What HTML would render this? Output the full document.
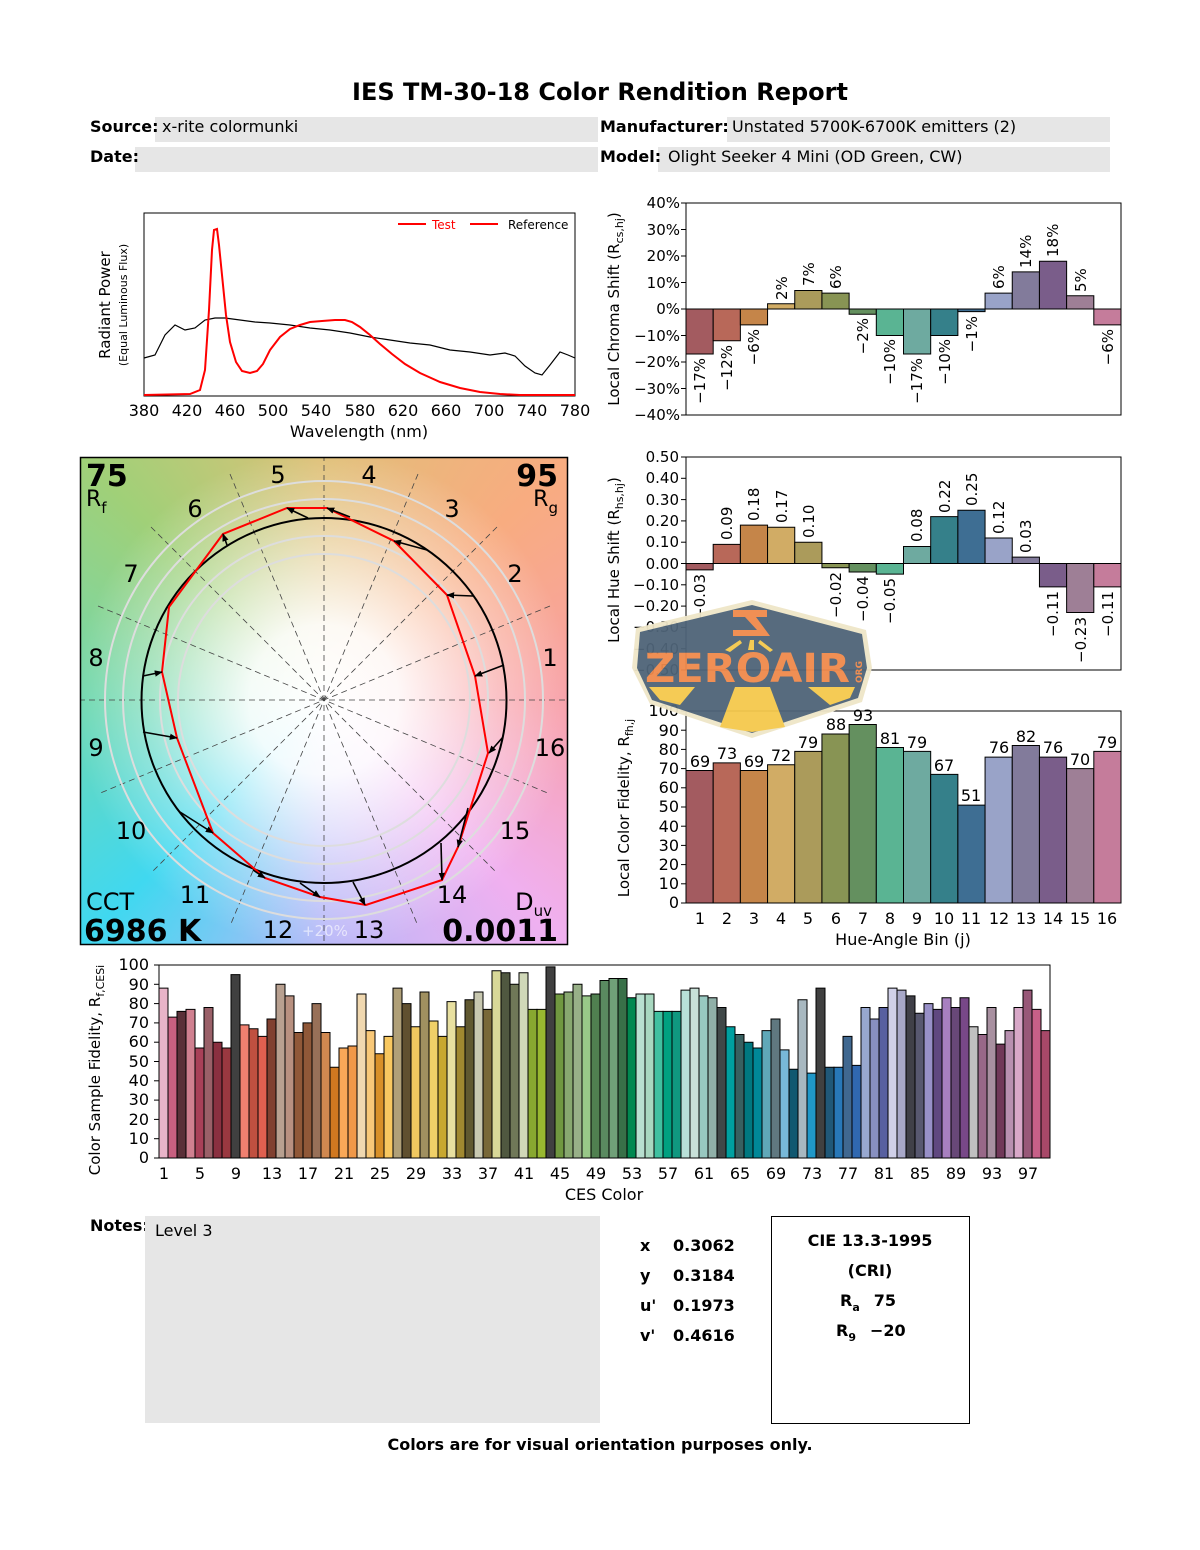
<!DOCTYPE html>
<html><head><meta charset="utf-8">
<style>
html,body{margin:0;padding:0;background:#fff;}
svg{display:block;font-family:"DejaVu Sans","Liberation Sans",sans-serif;}
.ns{vector-effect:non-scaling-stroke;}
</style></head><body>
<svg width="1200" height="1550" viewBox="0 0 1200 1550" xmlns="http://www.w3.org/2000/svg">
<defs>
<clipPath id="vgc"><rect x="81" y="458" width="486" height="486"/></clipPath>
<radialGradient id="wht" cx="324" cy="700" r="250" gradientUnits="userSpaceOnUse">
<stop offset="0" stop-color="#fff" stop-opacity="1"/>
<stop offset="0.3" stop-color="#fff" stop-opacity="0.92"/>
<stop offset="0.7" stop-color="#fff" stop-opacity="0.35"/>
<stop offset="1" stop-color="#fff" stop-opacity="0"/>
</radialGradient>
<marker id="ah" viewBox="0 0 10 10" refX="9" refY="5" markerWidth="5" markerHeight="5" orient="auto"><path d="M0,1 L10,5 L0,9 z" fill="#000"/></marker>
</defs>

<!-- Title & header -->
<text x="600" y="100" text-anchor="middle" font-size="24" font-weight="bold">IES TM-30-18 Color Rendition Report</text>
<rect x="155" y="117" width="443" height="25" fill="#e6e6e6"/>
<rect x="135" y="147" width="463" height="25" fill="#e6e6e6"/>
<rect x="727" y="117" width="383" height="25" fill="#e6e6e6"/>
<rect x="658" y="147" width="452" height="25" fill="#e6e6e6"/>
<g font-size="16">
<text x="90" y="132" font-weight="bold">Source:</text><text x="162" y="132">x-rite colormunki</text>
<text x="90" y="162" font-weight="bold">Date:</text>
<text x="600" y="132" font-weight="bold">Manufacturer:</text><text x="732" y="132">Unstated 5700K-6700K emitters (2)</text>
<text x="600" y="162" font-weight="bold">Model:</text><text x="668" y="162">Olight Seeker 4 Mini (OD Green, CW)</text>
</g>

<!-- Spectrum chart -->
<rect x="144" y="213" width="431" height="183" fill="none" stroke="#000" stroke-width="1"/>
<polyline fill="none" stroke="#000" stroke-width="1.2" points="144,358 155,355 160,345 165,335 175,325 185,330 195,328 205,320 215,318 225,318 240,320 255,322 270,323 290,325 310,328 330,330 350,333 370,337 390,340 410,343 430,345 450,350 470,352 490,355 505,353 515,356 525,366 535,373 542,375 550,365 560,352 568,355 575,358"/>
<polyline fill="none" stroke="#f00" stroke-width="2" points="144,395 190,394 200,390 205,370 209,310 212,250 214,230 217,229 219,245 222,275 226,315 230,342 236,362 242,371 250,373 257,371 263,364 270,350 280,337 290,329 300,325 310,322 322,321 335,320 345,320 352,322 360,327 370,335 380,344 392,354 405,364 420,373 440,382 460,388 480,392 500,394 520,395 575,395"/>
<line x1="398" y1="224" x2="426" y2="224" stroke="#f00" stroke-width="2"/>
<text x="432" y="229" font-size="12" fill="#f00">Test</text>
<line x1="470" y1="224" x2="498" y2="224" stroke="#f00" stroke-width="2"/>
<text x="508" y="229" font-size="12">Reference</text>
<g font-size="16" text-anchor="middle">
<text x="144" y="416">380</text><text x="187" y="416">420</text><text x="230" y="416">460</text><text x="273" y="416">500</text><text x="316" y="416">540</text><text x="360" y="416">580</text><text x="403" y="416">620</text><text x="446" y="416">660</text><text x="489" y="416">700</text><text x="532" y="416">740</text><text x="575" y="416">780</text>
<text x="359" y="437">Wavelength (nm)</text>
</g>
<text transform="translate(110,305) rotate(-90)" text-anchor="middle" font-size="15">Radiant Power</text>
<text transform="translate(127,305) rotate(-90)" text-anchor="middle" font-size="11">(Equal Luminous Flux)</text>

<!-- Chroma shift chart -->
<g transform="translate(686,309) scale(27.1875,-2.65)" stroke="#000" stroke-width="1">
<rect class="ns" x="0" y="-17" width="1" height="17" fill="#a35b60"/>
<rect class="ns" x="1" y="-12" width="1" height="12" fill="#b86859"/>
<rect class="ns" x="2" y="-6" width="1" height="6" fill="#c58549"/>
<rect class="ns" x="3" y="0" width="1" height="2" fill="#d1ac65"/>
<rect class="ns" x="4" y="0" width="1" height="7" fill="#ab9b5b"/>
<rect class="ns" x="5" y="0" width="1" height="6" fill="#889454"/>
<rect class="ns" x="6" y="-2" width="1" height="2" fill="#64905f"/>
<rect class="ns" x="7" y="-10" width="1" height="10" fill="#5ab493"/>
<rect class="ns" x="8" y="-17" width="1" height="17" fill="#6eaaa0"/>
<rect class="ns" x="9" y="-10" width="1" height="10" fill="#35808a"/>
<rect class="ns" x="10" y="-1" width="1" height="1" fill="#3e6e93"/>
<rect class="ns" x="11" y="0" width="1" height="6" fill="#99a3c8"/>
<rect class="ns" x="12" y="0" width="1" height="14" fill="#827b9b"/>
<rect class="ns" x="13" y="0" width="1" height="18" fill="#7a5d8a"/>
<rect class="ns" x="14" y="0" width="1" height="5" fill="#9e7f96"/>
<rect class="ns" x="15" y="-6" width="1" height="6" fill="#c57c9b"/>
</g>
<rect x="686" y="203" width="435" height="212" fill="none" stroke="#000"/>
<g font-size="15" text-anchor="end">
<text x="680" y="208">40%</text><text x="680" y="235">30%</text><text x="680" y="261">20%</text><text x="680" y="288">10%</text><text x="680" y="314">0%</text><text x="680" y="341">−10%</text><text x="680" y="367">−20%</text><text x="680" y="394">−30%</text><text x="680" y="420">−40%</text>
</g>
<g stroke="#000"><line x1="681" y1="203" x2="686" y2="203"/><line x1="681" y1="229.5" x2="686" y2="229.5"/><line x1="681" y1="256" x2="686" y2="256"/><line x1="681" y1="282.5" x2="686" y2="282.5"/><line x1="681" y1="309" x2="686" y2="309"/><line x1="681" y1="335.5" x2="686" y2="335.5"/><line x1="681" y1="362" x2="686" y2="362"/><line x1="681" y1="388.5" x2="686" y2="388.5"/><line x1="681" y1="415" x2="686" y2="415"/></g>
<text transform="translate(619,309) rotate(-90)" text-anchor="middle" font-size="15">Local Chroma Shift (R<tspan font-size="11" dy="4">cs,hj</tspan><tspan dy="-4">)</tspan></text>
<g font-size="15">
<text transform="translate(705,358) rotate(-90)" text-anchor="end">−17%</text>
<text transform="translate(732,345) rotate(-90)" text-anchor="end">−12%</text>
<text transform="translate(759,329) rotate(-90)" text-anchor="end">−6%</text>
<text transform="translate(787,300) rotate(-90)">2%</text>
<text transform="translate(814,286) rotate(-90)">7%</text>
<text transform="translate(841,289) rotate(-90)">6%</text>
<text transform="translate(868,318) rotate(-90)" text-anchor="end">−2%</text>
<text transform="translate(895,339) rotate(-90)" text-anchor="end">−10%</text>
<text transform="translate(922,358) rotate(-90)" text-anchor="end">−17%</text>
<text transform="translate(950,339) rotate(-90)" text-anchor="end">−10%</text>
<text transform="translate(977,316) rotate(-90)" text-anchor="end">−1%</text>
<text transform="translate(1004,289) rotate(-90)">6%</text>
<text transform="translate(1031,268) rotate(-90)">14%</text>
<text transform="translate(1058,257) rotate(-90)">18%</text>
<text transform="translate(1086,292) rotate(-90)">5%</text>
<text transform="translate(1113,329) rotate(-90)" text-anchor="end">−6%</text>
</g>

<!-- Hue shift chart -->
<g transform="translate(686,563.5) scale(27.1875,-213)" stroke="#000">
<rect class="ns" x="0" y="-0.03" width="1" height="0.03" fill="#a35b60"/>
<rect class="ns" x="1" y="0" width="1" height="0.09" fill="#b86859"/>
<rect class="ns" x="2" y="0" width="1" height="0.18" fill="#c58549"/>
<rect class="ns" x="3" y="0" width="1" height="0.17" fill="#d1ac65"/>
<rect class="ns" x="4" y="0" width="1" height="0.10" fill="#ab9b5b"/>
<rect class="ns" x="5" y="-0.02" width="1" height="0.02" fill="#889454"/>
<rect class="ns" x="6" y="-0.04" width="1" height="0.04" fill="#64905f"/>
<rect class="ns" x="7" y="-0.05" width="1" height="0.05" fill="#5ab493"/>
<rect class="ns" x="8" y="0" width="1" height="0.08" fill="#6eaaa0"/>
<rect class="ns" x="9" y="0" width="1" height="0.22" fill="#35808a"/>
<rect class="ns" x="10" y="0" width="1" height="0.25" fill="#3e6e93"/>
<rect class="ns" x="11" y="0" width="1" height="0.12" fill="#99a3c8"/>
<rect class="ns" x="12" y="0" width="1" height="0.03" fill="#827b9b"/>
<rect class="ns" x="13" y="-0.11" width="1" height="0.11" fill="#7a5d8a"/>
<rect class="ns" x="14" y="-0.23" width="1" height="0.23" fill="#9e7f96"/>
<rect class="ns" x="15" y="-0.11" width="1" height="0.11" fill="#c57c9b"/>
</g>
<rect x="686" y="457" width="435" height="213" fill="none" stroke="#000"/>
<g font-size="15" text-anchor="end">
<text x="679" y="462">0.50</text><text x="679" y="483">0.40</text><text x="679" y="505">0.30</text><text x="679" y="526">0.20</text><text x="679" y="547">0.10</text><text x="679" y="569">0.00</text><text x="679" y="590">−0.10</text><text x="679" y="611">−0.20</text><text x="679" y="632">−0.30</text><text x="679" y="654">−0.40</text><text x="679" y="675">−0.50</text>
</g>
<g stroke="#000"><line x1="681" y1="457" x2="686" y2="457"/><line x1="681" y1="478.3" x2="686" y2="478.3"/><line x1="681" y1="499.6" x2="686" y2="499.6"/><line x1="681" y1="520.9" x2="686" y2="520.9"/><line x1="681" y1="542.2" x2="686" y2="542.2"/><line x1="681" y1="563.5" x2="686" y2="563.5"/><line x1="681" y1="584.8" x2="686" y2="584.8"/><line x1="681" y1="606.1" x2="686" y2="606.1"/><line x1="681" y1="627.4" x2="686" y2="627.4"/><line x1="681" y1="648.7" x2="686" y2="648.7"/><line x1="681" y1="670" x2="686" y2="670"/></g>
<text transform="translate(619,560) rotate(-90)" text-anchor="middle" font-size="15">Local Hue Shift (R<tspan font-size="11" dy="4">hs,hj</tspan><tspan dy="-4">)</tspan></text>
<g font-size="15">
<text transform="translate(705,574) rotate(-90)" text-anchor="end">−0.03</text>
<text transform="translate(732,540) rotate(-90)">0.09</text>
<text transform="translate(759,521) rotate(-90)">0.18</text>
<text transform="translate(787,523) rotate(-90)">0.17</text>
<text transform="translate(814,538) rotate(-90)">0.10</text>
<text transform="translate(841,572) rotate(-90)" text-anchor="end">−0.02</text>
<text transform="translate(868,576) rotate(-90)" text-anchor="end">−0.04</text>
<text transform="translate(895,578) rotate(-90)" text-anchor="end">−0.05</text>
<text transform="translate(922,542) rotate(-90)">0.08</text>
<text transform="translate(950,513) rotate(-90)">0.22</text>
<text transform="translate(977,506) rotate(-90)">0.25</text>
<text transform="translate(1004,534) rotate(-90)">0.12</text>
<text transform="translate(1031,553) rotate(-90)">0.03</text>
<text transform="translate(1058,591) rotate(-90)" text-anchor="end">−0.11</text>
<text transform="translate(1086,617) rotate(-90)" text-anchor="end">−0.23</text>
<text transform="translate(1113,591) rotate(-90)" text-anchor="end">−0.11</text>
</g>

<!-- Local fidelity chart -->
<g transform="translate(686,903) scale(27.1875,-1.92)" stroke="#000">
<rect class="ns" x="0" y="0" width="1" height="69" fill="#a35b60"/>
<rect class="ns" x="1" y="0" width="1" height="73" fill="#b86859"/>
<rect class="ns" x="2" y="0" width="1" height="69" fill="#c58549"/>
<rect class="ns" x="3" y="0" width="1" height="72" fill="#d1ac65"/>
<rect class="ns" x="4" y="0" width="1" height="79" fill="#ab9b5b"/>
<rect class="ns" x="5" y="0" width="1" height="88" fill="#889454"/>
<rect class="ns" x="6" y="0" width="1" height="93" fill="#64905f"/>
<rect class="ns" x="7" y="0" width="1" height="81" fill="#5ab493"/>
<rect class="ns" x="8" y="0" width="1" height="79" fill="#6eaaa0"/>
<rect class="ns" x="9" y="0" width="1" height="67" fill="#35808a"/>
<rect class="ns" x="10" y="0" width="1" height="51" fill="#3e6e93"/>
<rect class="ns" x="11" y="0" width="1" height="76" fill="#99a3c8"/>
<rect class="ns" x="12" y="0" width="1" height="82" fill="#827b9b"/>
<rect class="ns" x="13" y="0" width="1" height="76" fill="#7a5d8a"/>
<rect class="ns" x="14" y="0" width="1" height="70" fill="#9e7f96"/>
<rect class="ns" x="15" y="0" width="1" height="79" fill="#c57c9b"/>
</g>
<rect x="686" y="711" width="435" height="192" fill="none" stroke="#000"/>
<g font-size="16" text-anchor="middle">
<text x="700" y="767">69</text><text x="727" y="759">73</text><text x="754" y="767">69</text><text x="781" y="761">72</text><text x="808" y="748">79</text><text x="836" y="730">88</text><text x="863" y="721">93</text><text x="890" y="744">81</text><text x="917" y="748">79</text><text x="944" y="771">67</text><text x="971" y="801">51</text><text x="999" y="753">76</text><text x="1026" y="742">82</text><text x="1053" y="753">76</text><text x="1080" y="765">70</text><text x="1107" y="748">79</text>
</g>
<g font-size="16" text-anchor="end">
<text x="679" y="716">100</text><text x="679" y="736">90</text><text x="679" y="755">80</text><text x="679" y="774">70</text><text x="679" y="793">60</text><text x="679" y="812">50</text><text x="679" y="832">40</text><text x="679" y="851">30</text><text x="679" y="870">20</text><text x="679" y="889">10</text><text x="679" y="908">0</text>
</g>
<g stroke="#000"><line x1="681" y1="711" x2="686" y2="711"/><line x1="681" y1="730.2" x2="686" y2="730.2"/><line x1="681" y1="749.4" x2="686" y2="749.4"/><line x1="681" y1="768.6" x2="686" y2="768.6"/><line x1="681" y1="787.8" x2="686" y2="787.8"/><line x1="681" y1="807" x2="686" y2="807"/><line x1="681" y1="826.2" x2="686" y2="826.2"/><line x1="681" y1="845.4" x2="686" y2="845.4"/><line x1="681" y1="864.6" x2="686" y2="864.6"/><line x1="681" y1="883.8" x2="686" y2="883.8"/><line x1="681" y1="903" x2="686" y2="903"/></g>
<g font-size="16" text-anchor="middle">
<text x="700" y="924">1</text><text x="727" y="924">2</text><text x="754" y="924">3</text><text x="781" y="924">4</text><text x="808" y="924">5</text><text x="836" y="924">6</text><text x="863" y="924">7</text><text x="890" y="924">8</text><text x="917" y="924">9</text><text x="944" y="924">10</text><text x="971" y="924">11</text><text x="999" y="924">12</text><text x="1026" y="924">13</text><text x="1053" y="924">14</text><text x="1080" y="924">15</text><text x="1107" y="924">16</text>
<text x="903" y="945">Hue-Angle Bin (j)</text>
</g>
<text transform="translate(629,808) rotate(-90)" text-anchor="middle" font-size="15">Local Color Fidelity, R<tspan font-size="11" dy="4">fh,j</tspan></text>

<!-- Colour vector graphic -->
<g clip-path="url(#vgc)">
<foreignObject x="81" y="458" width="486" height="486">
<div xmlns="http://www.w3.org/1999/xhtml" style="width:486px;height:486px;background:conic-gradient(from 0deg at 50% 50%, #e0c078 0deg, #f8ac80 45deg, #f8a0a8 90deg, #f0b0f0 135deg, #b8b8f8 180deg, #40d8f0 225deg, #70d8b0 270deg, #a0d078 315deg, #e0c078 360deg);"></div>
</foreignObject>
<rect x="81" y="458" width="486" height="486" fill="url(#wht)"/>
<g stroke="#444" stroke-width="0.8" stroke-dasharray="6,4">
<line x1="79" y1="700" x2="569" y2="700"/>
<line x1="324" y1="455" x2="324" y2="945"/>
<line x1="98" y1="606" x2="550" y2="794"/>
<line x1="151" y1="527" x2="497" y2="873"/>
<line x1="230" y1="474" x2="418" y2="926"/>
<line x1="418" y1="474" x2="230" y2="926"/>
<line x1="497" y1="527" x2="151" y2="873"/>
<line x1="550" y1="606" x2="98" y2="794"/>
</g>
<g fill="none" stroke="#ddd" stroke-width="2">
<circle cx="324" cy="700" r="146"/><circle cx="324" cy="700" r="164"/><circle cx="324" cy="700" r="201"/><circle cx="324" cy="700" r="219"/>
</g>
<circle cx="324" cy="700.5" r="182.5" fill="none" stroke="#000" stroke-width="2"/>
<polygon fill="none" stroke="#f00" stroke-width="2" points="287,508 327,508 394,541 447,595 475,676 488,753 458,847 442,880 366,905 320,897 265,878 213,833 177,738 162,672 169,607 223,534"/>
<g stroke="#000" stroke-width="1.6" marker-end="url(#ah)">
<line x1="308" y1="518" x2="287" y2="508"/>
<line x1="350" y1="517" x2="327" y2="508"/>
<line x1="427" y1="550" x2="394" y2="541"/>
<line x1="473" y1="596" x2="447" y2="595"/>
<line x1="504" y1="665" x2="475" y2="676"/>
<line x1="503" y1="737" x2="489" y2="753"/>
<line x1="468" y1="808" x2="458" y2="847"/>
<line x1="441" y1="843" x2="442" y2="880"/>
<line x1="353" y1="882" x2="365" y2="905"/>
<line x1="300" y1="883" x2="320" y2="897"/>
<line x1="253" y1="870" x2="265" y2="878"/>
<line x1="180" y1="812" x2="213" y2="833"/>
<line x1="143" y1="732" x2="177" y2="738"/>
<line x1="143" y1="676" x2="162" y2="672"/>
<line x1="227" y1="545" x2="223" y2="534"/>
</g>
<g font-size="24" text-anchor="middle">
<text x="550" y="666">1</text><text x="515" y="582">2</text><text x="452" y="517">3</text><text x="369" y="483">4</text><text x="278" y="483">5</text><text x="195" y="517">6</text><text x="131" y="582">7</text><text x="96" y="666">8</text><text x="96" y="756">9</text><text x="131" y="839">10</text><text x="195" y="903">11</text><text x="278" y="938">12</text><text x="369" y="938">13</text><text x="452" y="903">14</text><text x="515" y="839">15</text><text x="550" y="756">16</text>
</g>
<text x="325" y="936" text-anchor="middle" font-size="15" fill="#fff" fill-opacity="0.6">+20%</text>
<text x="86" y="486" font-size="30" font-weight="bold">75</text>
<text x="86" y="506" font-size="22">R<tspan font-size="15" dy="7">f</tspan></text>
<text x="558" y="486" font-size="30" font-weight="bold" text-anchor="end">95</text>
<text x="558" y="506" font-size="22" text-anchor="end">R<tspan font-size="15" dy="7">g</tspan></text>
<text x="86" y="910" font-size="24">CCT</text>
<text x="84" y="941" font-size="30" font-weight="bold">6986 K</text>
<text x="552" y="910" font-size="24" text-anchor="end">D<tspan font-size="15" dy="6">uv</tspan></text>
<text x="558" y="941" font-size="30" font-weight="bold" text-anchor="end">0.0011</text>
</g>
<rect x="80.5" y="457.5" width="487" height="487" fill="none" stroke="#000" stroke-width="1.5"/>

<!-- CES chart -->
<g transform="translate(159,1158) scale(9,-1.93)" stroke="#000">
<rect class="ns" x="0" width="1" height="88" fill="#e8b4c8"/>
<rect class="ns" x="1" width="1" height="73" fill="#c86080"/>
<rect class="ns" x="2" width="1" height="76" fill="#5a3038"/>
<rect class="ns" x="3" width="1" height="77" fill="#d08090"/>
<rect class="ns" x="4" width="1" height="57" fill="#a84058"/>
<rect class="ns" x="5" width="1" height="78" fill="#9a6068"/>
<rect class="ns" x="6" width="1" height="60" fill="#8a3040"/>
<rect class="ns" x="7" width="1" height="57" fill="#9a3840"/>
<rect class="ns" x="8" width="1" height="95" fill="#404040"/>
<rect class="ns" x="9" width="1" height="69" fill="#f08070"/>
<rect class="ns" x="10" width="1" height="67" fill="#c05040"/>
<rect class="ns" x="11" width="1" height="63" fill="#e06050"/>
<rect class="ns" x="12" width="1" height="72" fill="#804030"/>
<rect class="ns" x="13" width="1" height="90" fill="#b8a090"/>
<rect class="ns" x="14" width="1" height="84" fill="#b89080"/>
<rect class="ns" x="15" width="1" height="65" fill="#905838"/>
<rect class="ns" x="16" width="1" height="70" fill="#905838"/>
<rect class="ns" x="17" width="1" height="80" fill="#987058"/>
<rect class="ns" x="18" width="1" height="65" fill="#d08850"/>
<rect class="ns" x="19" width="1" height="47" fill="#d07820"/>
<rect class="ns" x="20" width="1" height="57" fill="#f8a858"/>
<rect class="ns" x="21" width="1" height="58" fill="#f09848"/>
<rect class="ns" x="22" width="1" height="85" fill="#f0d8b0"/>
<rect class="ns" x="23" width="1" height="66" fill="#f8c878"/>
<rect class="ns" x="24" width="1" height="54" fill="#d89028"/>
<rect class="ns" x="25" width="1" height="63" fill="#f8c860"/>
<rect class="ns" x="26" width="1" height="88" fill="#b0a078"/>
<rect class="ns" x="27" width="1" height="80" fill="#605030"/>
<rect class="ns" x="28" width="1" height="68" fill="#f0c860"/>
<rect class="ns" x="29" width="1" height="86" fill="#a09060"/>
<rect class="ns" x="30" width="1" height="71" fill="#f0d068"/>
<rect class="ns" x="31" width="1" height="63" fill="#c8a830"/>
<rect class="ns" x="32" width="1" height="81" fill="#e8e0a0"/>
<rect class="ns" x="33" width="1" height="68" fill="#a08830"/>
<rect class="ns" x="34" width="1" height="82" fill="#605830"/>
<rect class="ns" x="35" width="1" height="86" fill="#c8c8b0"/>
<rect class="ns" x="36" width="1" height="77" fill="#786838"/>
<rect class="ns" x="37" width="1" height="97" fill="#d8d898"/>
<rect class="ns" x="38" width="1" height="96" fill="#505840"/>
<rect class="ns" x="39" width="1" height="90" fill="#707858"/>
<rect class="ns" x="40" width="1" height="96" fill="#d0d8b8"/>
<rect class="ns" x="41" width="1" height="77" fill="#88a830"/>
<rect class="ns" x="42" width="1" height="77" fill="#98b830"/>
<rect class="ns" x="43" width="1" height="99" fill="#404040"/>
<rect class="ns" x="44" width="1" height="85" fill="#709840"/>
<rect class="ns" x="45" width="1" height="86" fill="#88a870"/>
<rect class="ns" x="46" width="1" height="90" fill="#98b088"/>
<rect class="ns" x="47" width="1" height="84" fill="#98c888"/>
<rect class="ns" x="48" width="1" height="85" fill="#508050"/>
<rect class="ns" x="49" width="1" height="92" fill="#5a8a60"/>
<rect class="ns" x="50" width="1" height="93" fill="#70a078"/>
<rect class="ns" x="51" width="1" height="93" fill="#387048"/>
<rect class="ns" x="52" width="1" height="83" fill="#008850"/>
<rect class="ns" x="53" width="1" height="85" fill="#b8e0d0"/>
<rect class="ns" x="54" width="1" height="85" fill="#a8d8c0"/>
<rect class="ns" x="55" width="1" height="76" fill="#40c0a0"/>
<rect class="ns" x="56" width="1" height="76" fill="#00a080"/>
<rect class="ns" x="57" width="1" height="76" fill="#109880"/>
<rect class="ns" x="58" width="1" height="87" fill="#b8e0d8"/>
<rect class="ns" x="59" width="1" height="88" fill="#c8e0d8"/>
<rect class="ns" x="60" width="1" height="84" fill="#98c8c0"/>
<rect class="ns" x="61" width="1" height="83" fill="#90b0a8"/>
<rect class="ns" x="62" width="1" height="78" fill="#404848"/>
<rect class="ns" x="63" width="1" height="68" fill="#00a0a0"/>
<rect class="ns" x="64" width="1" height="64" fill="#386060"/>
<rect class="ns" x="65" width="1" height="60" fill="#007880"/>
<rect class="ns" x="66" width="1" height="57" fill="#008898"/>
<rect class="ns" x="67" width="1" height="66" fill="#60a8b8"/>
<rect class="ns" x="68" width="1" height="72" fill="#607880"/>
<rect class="ns" x="69" width="1" height="56" fill="#78b8d8"/>
<rect class="ns" x="70" width="1" height="46" fill="#105870"/>
<rect class="ns" x="71" width="1" height="82" fill="#a8b8c0"/>
<rect class="ns" x="72" width="1" height="44" fill="#2098c8"/>
<rect class="ns" x="73" width="1" height="88" fill="#404040"/>
<rect class="ns" x="74" width="1" height="47" fill="#205878"/>
<rect class="ns" x="75" width="1" height="47" fill="#2878b8"/>
<rect class="ns" x="76" width="1" height="63" fill="#406890"/>
<rect class="ns" x="77" width="1" height="48" fill="#3068b0"/>
<rect class="ns" x="78" width="1" height="78" fill="#98a8d0"/>
<rect class="ns" x="79" width="1" height="72" fill="#8890c0"/>
<rect class="ns" x="80" width="1" height="78" fill="#5860a0"/>
<rect class="ns" x="81" width="1" height="88" fill="#d0d0e8"/>
<rect class="ns" x="82" width="1" height="87" fill="#a8a8c8"/>
<rect class="ns" x="83" width="1" height="84" fill="#404048"/>
<rect class="ns" x="84" width="1" height="75" fill="#585870"/>
<rect class="ns" x="85" width="1" height="80" fill="#9890c8"/>
<rect class="ns" x="86" width="1" height="77" fill="#604880"/>
<rect class="ns" x="87" width="1" height="83" fill="#a880c0"/>
<rect class="ns" x="88" width="1" height="78" fill="#684878"/>
<rect class="ns" x="89" width="1" height="83" fill="#784888"/>
<rect class="ns" x="90" width="1" height="68" fill="#c0c0c0"/>
<rect class="ns" x="91" width="1" height="64" fill="#986888"/>
<rect class="ns" x="92" width="1" height="78" fill="#a890a0"/>
<rect class="ns" x="93" width="1" height="59" fill="#703858"/>
<rect class="ns" x="94" width="1" height="66" fill="#b890b0"/>
<rect class="ns" x="95" width="1" height="78" fill="#d8a8c8"/>
<rect class="ns" x="96" width="1" height="87" fill="#985878"/>
<rect class="ns" x="97" width="1" height="77" fill="#c86088"/>
<rect class="ns" x="98" width="1" height="66" fill="#a84868"/>
</g>
<rect x="159" y="965" width="891" height="193" fill="none" stroke="#000"/>
<g font-size="16" text-anchor="end">
<text x="149" y="970">100</text><text x="149" y="990">90</text><text x="149" y="1009">80</text><text x="149" y="1028">70</text><text x="149" y="1047">60</text><text x="149" y="1067">50</text><text x="149" y="1086">40</text><text x="149" y="1105">30</text><text x="149" y="1125">20</text><text x="149" y="1144">10</text><text x="149" y="1163">0</text>
</g>
<g stroke="#000"><line x1="154" y1="965" x2="159" y2="965"/><line x1="154" y1="984.3" x2="159" y2="984.3"/><line x1="154" y1="1003.6" x2="159" y2="1003.6"/><line x1="154" y1="1022.9" x2="159" y2="1022.9"/><line x1="154" y1="1042.2" x2="159" y2="1042.2"/><line x1="154" y1="1061.5" x2="159" y2="1061.5"/><line x1="154" y1="1080.8" x2="159" y2="1080.8"/><line x1="154" y1="1100.1" x2="159" y2="1100.1"/><line x1="154" y1="1119.4" x2="159" y2="1119.4"/><line x1="154" y1="1138.7" x2="159" y2="1138.7"/><line x1="154" y1="1158" x2="159" y2="1158"/></g>
<g font-size="16" text-anchor="middle">
<text x="164" y="1179">1</text><text x="200" y="1179">5</text><text x="236" y="1179">9</text><text x="272" y="1179">13</text><text x="308" y="1179">17</text><text x="344" y="1179">21</text><text x="380" y="1179">25</text><text x="416" y="1179">29</text><text x="452" y="1179">33</text><text x="488" y="1179">37</text><text x="524" y="1179">41</text><text x="560" y="1179">45</text><text x="596" y="1179">49</text><text x="632" y="1179">53</text><text x="668" y="1179">57</text><text x="704" y="1179">61</text><text x="740" y="1179">65</text><text x="776" y="1179">69</text><text x="812" y="1179">73</text><text x="848" y="1179">77</text><text x="884" y="1179">81</text><text x="920" y="1179">85</text><text x="956" y="1179">89</text><text x="992" y="1179">93</text><text x="1028" y="1179">97</text>
<text x="604" y="1200">CES Color</text>
</g>
<text transform="translate(100,1070) rotate(-90)" text-anchor="middle" font-size="15">Color Sample Fidelity, R<tspan font-size="11" dy="4">f,CESi</tspan></text>

<!-- Watermark logo -->
<g opacity="0.95">
<polygon points="636,628 752,600 866,630 872,668 862,702 752,738 650,704 632,668" fill="#efe6c8"/>
<polygon points="640,632 752,605 862,634 867,668 858,698 752,733 652,700 637,668" fill="#4f6478"/>
<polygon points="649,687 695,687 680,705 660,700" fill="#f5c94c"/>
<polygon points="735,687 770,687 785,727 752,732 720,727" fill="#f5c94c"/>
<polygon points="808,687 855,687 850,698 830,705" fill="#f5c94c"/>
<polygon points="733,610 767,610 767,617 756,617 770,636 733,636 733,630 757,630 745,617 733,617" fill="#f08a4b"/>
<polygon points="725,650 740,640 742,643 730,652" fill="#f5c94c"/>
<polygon points="748,650 750,640 754,640 754,650" fill="#f5c94c"/>
<polygon points="773,650 760,640 758,643 770,652" fill="#f5c94c"/>
<text x="645" y="682" font-size="40" font-weight="bold" fill="#f08a4b" textLength="205" lengthAdjust="spacingAndGlyphs">ZEROAIR</text>
<text transform="translate(862,672) rotate(-90)" font-size="9" font-weight="bold" fill="#f08a4b" text-anchor="middle">ORG</text>
</g>

<!-- Notes & coordinates -->
<text x="90" y="1231" font-size="16" font-weight="bold">Notes:</text>
<rect x="145" y="1216" width="455" height="207" fill="#e6e6e6"/>
<text x="155" y="1236" font-size="16">Level 3</text>
<g font-size="16" font-weight="bold">
<text x="640" y="1251">x</text><text x="673" y="1251">0.3062</text>
<text x="640" y="1281">y</text><text x="673" y="1281">0.3184</text>
<text x="640" y="1311">u'</text><text x="673" y="1311">0.1973</text>
<text x="640" y="1341">v'</text><text x="673" y="1341">0.4616</text>
</g>
<rect x="771.5" y="1216.5" width="198" height="207" fill="none" stroke="#000"/>
<g font-size="16" font-weight="bold" text-anchor="middle">
<text x="870" y="1246">CIE 13.3-1995</text>
<text x="870" y="1276">(CRI)</text>
</g>
<g font-size="16" font-weight="bold">
<text x="840" y="1306">R<tspan font-size="11" dy="5">a</tspan><tspan dy="-5" dx="14">75</tspan></text>
<text x="836" y="1336">R<tspan font-size="11" dy="5">9</tspan><tspan dy="-5" dx="14">−20</tspan></text>
</g>
<text x="600" y="1450" text-anchor="middle" font-size="16" font-weight="bold">Colors are for visual orientation purposes only.</text>
</svg>
</body></html>
